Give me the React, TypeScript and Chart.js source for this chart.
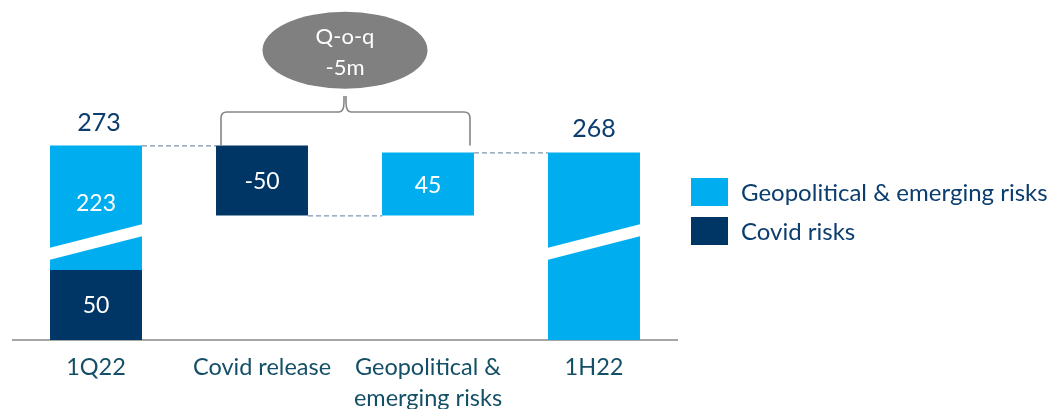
import React, { useEffect, useRef } from "react";
import { Chart, registerables } from "chart.js";

Chart.register(...registerables);

// ---------- data ----------
const categories: (string | string[])[] = ["1Q22", "Covid release", ["Geopolitical &", "emerging risks"], "1H22"];
const startCovid = 50;
const startGeo = 223;
const covidRelease = -50;
const geoChange = 45;
const endTotal = 268;
const startTotal = startCovid + startGeo; // 273
const qoqText = ["Q-o-q", "-5m"];
const seriesNames = ["Geopolitical & emerging risks", "Covid risks"];
// units removed by the broken axis (values above the break are drawn shifted down)
const AXIS_BREAK = 134;

const LIGHT = "#00AEEF";
const DARK = "#003665";
const NAVY_TEXT = "#0b3d6e";
const TEAL_TEXT = "#134f66";
const FONT = "Lato, 'Open Sans', sans-serif";

const shown = (v: number) => (v > startCovid ? v - AXIS_BREAK : v);

// floating bars: [from, to] in drawn units
const covidData: any[] = [
  [0, startCovid],
  [shown(startTotal + covidRelease), shown(startTotal)],
  null,
  null,
];
const geoData: any[] = [
  [startCovid, shown(startTotal)],
  null,
  [shown(startTotal + covidRelease), shown(endTotal)],
  [0, shown(endTotal)],
];
const innerLabels = [
  [String(startGeo), String(startCovid)],
  [String(covidRelease)],
  [String(geoChange)],
  [],
];

const decorPlugin = {
  id: "decor",
  afterDatasetsDraw(chart: any) {
    const { ctx, scales } = chart;
    const x = scales.x;
    const y = scales.y;
    const metaGeo = chart.getDatasetMeta(0);
    const metaCovid = chart.getDatasetMeta(1);
    const barBox = (el: any) => {
      const p = el.getProps(["x", "y", "base", "width"], true);
      return { l: p.x - p.width / 2, r: p.x + p.width / 2, top: Math.min(p.y, p.base), bot: Math.max(p.y, p.base), cx: p.x };
    };
    ctx.save();

    // broken-axis breaks on full bars (1Q22 and 1H22)
    [0, 3].forEach((i) => {
      const b = barBox(metaGeo.data[i]);
      ctx.fillStyle = "#ffffff";
      ctx.beginPath();
      ctx.moveTo(b.l - 1, y.getPixelForValue(57.1));
      ctx.lineTo(b.l - 1, y.getPixelForValue(65.7));
      ctx.lineTo(b.r + 1, y.getPixelForValue(82.9));
      ctx.lineTo(b.r + 1, y.getPixelForValue(74.3));
      ctx.closePath();
      ctx.fill();
    });

    const b0 = barBox(metaGeo.data[0]);
    const b1 = barBox(metaCovid.data[1]);
    const b2 = barBox(metaGeo.data[2]);
    const b3 = barBox(metaGeo.data[3]);

    // dashed connectors
    ctx.strokeStyle = "#7f95ad";
    ctx.lineWidth = 1.3;
    ctx.setLineDash([5, 3]);
    const conn = (x1: number, x2: number, yy: number) => {
      ctx.beginPath();
      ctx.moveTo(x1, yy + 0.5);
      ctx.lineTo(x2, yy + 0.5);
      ctx.stroke();
    };
    conn(b0.r, b1.l, b0.top);
    conn(b1.r, b2.l, b1.bot);
    conn(b2.r, b3.l, b2.top);
    ctx.setLineDash([]);

    // inner labels (white)
    ctx.fillStyle = "#ffffff";
    ctx.textAlign = "center";
    ctx.textBaseline = "middle";
    ctx.font = `23px ${FONT}`;
    ctx.fillText(innerLabels[0][0], b0.cx, y.getPixelForValue(shown(startTotal)) + 58);
    const bc0 = barBox(metaCovid.data[0]);
    ctx.fillText(innerLabels[0][1], bc0.cx, (bc0.top + bc0.bot) / 2 + 1);
    ctx.fillText(innerLabels[1][0], b1.cx, (b1.top + b1.bot) / 2 + 1);
    ctx.fillText(innerLabels[2][0], b2.cx, (b2.top + b2.bot) / 2 + 2);

    // totals above
    ctx.fillStyle = NAVY_TEXT;
    ctx.font = `25px ${FONT}`;
    ctx.fillText(String(startTotal), b0.cx + 3, b0.top - 22);
    ctx.fillText(String(endTotal), b3.cx, b3.top - 23);

    // brace
    const lx = b1.l + 5;
    const rx = b2.r - 4;
    const mx = (x.getPixelForValue(1) + x.getPixelForValue(2)) / 2;
    const by = y.getPixelForValue(162.9);
    const r = 6;
    ctx.strokeStyle = "#858585";
    ctx.lineWidth = 1.6;
    ctx.beginPath();
    ctx.moveTo(lx, b1.top);
    ctx.lineTo(lx, by + r);
    ctx.quadraticCurveTo(lx, by, lx + r, by);
    ctx.lineTo(mx - 6, by);
    ctx.quadraticCurveTo(mx - 1, by, mx - 1, by - 10);
    ctx.lineTo(mx - 1, by - 16);
    ctx.moveTo(mx + 1, by - 16);
    ctx.lineTo(mx + 1, by - 10);
    ctx.quadraticCurveTo(mx + 1, by, mx + 6, by);
    ctx.lineTo(rx - r, by);
    ctx.quadraticCurveTo(rx, by, rx, by + r);
    ctx.lineTo(rx, b2.top - 7);
    ctx.stroke();

    // ellipse
    const ey = y.getPixelForValue(207);
    ctx.fillStyle = "#808080";
    ctx.beginPath();
    ctx.ellipse(mx, ey, 82.5, 38.5, 0, 0, Math.PI * 2);
    ctx.fill();
    ctx.fillStyle = "#ffffff";
    ctx.font = `22px ${FONT}`;
    ctx.fillText(qoqText[0], mx, ey - 13);
    ctx.fillText(qoqText[1], mx, ey + 18);

    // legend
    const ds = chart.data.datasets;
    ctx.textAlign = "left";
    ctx.font = `24px ${FONT}`;
    ds.forEach((d: any, i: number) => {
      const top = 178 + i * 39;
      ctx.fillStyle = d.backgroundColor;
      ctx.fillRect(691, top, 37, 28);
      ctx.fillStyle = NAVY_TEXT;
      ctx.fillText(d.label, 741, top + 15);
    });
    ctx.restore();
  },
};

export default function App() {
  const ref = useRef<HTMLCanvasElement | null>(null);
  useEffect(() => {
    document.body.style.margin = "0";
    const chart = new Chart(ref.current as HTMLCanvasElement, {
      type: "bar",
      data: {
        labels: categories as any,
        datasets: [
          {
            label: seriesNames[0],
            data: geoData,
            backgroundColor: LIGHT,
            grouped: false,
            barPercentage: 1,
            categoryPercentage: 0.554,
          } as any,
          {
            label: seriesNames[1],
            data: covidData,
            backgroundColor: DARK,
            grouped: false,
            barPercentage: 1,
            categoryPercentage: 0.554,
          } as any,
        ],
      },
      options: {
        animation: false,
        responsive: false,
        events: [],
        layout: { padding: { left: 13, right: 384, top: 4, bottom: 0 } },
        plugins: { legend: { display: false }, tooltip: { enabled: false } },
        scales: {
          x: {
            grid: { display: false, drawTicks: false },
            border: { display: true, color: "#a6a6a6", width: 2 },
            ticks: {
              color: TEAL_TEXT,
              font: { family: FONT, size: 23.5, lineHeight: 1.33 },
              padding: 12,
              maxRotation: 0,
              autoSkip: false,
            },
            afterFit: (s: any) => {
              s.height = 69;
            },
          },
          y: { display: false, min: 0, max: 240 },
        },
      },
      plugins: [decorPlugin],
    });
    return () => chart.destroy();
  }, []);
  return (
    <div style={{ position: "absolute", left: 0, top: 0, width: 1061, height: 409 }}>
      <canvas ref={ref} width={1061} height={409} style={{ display: "block" }} />
    </div>
  );
}
